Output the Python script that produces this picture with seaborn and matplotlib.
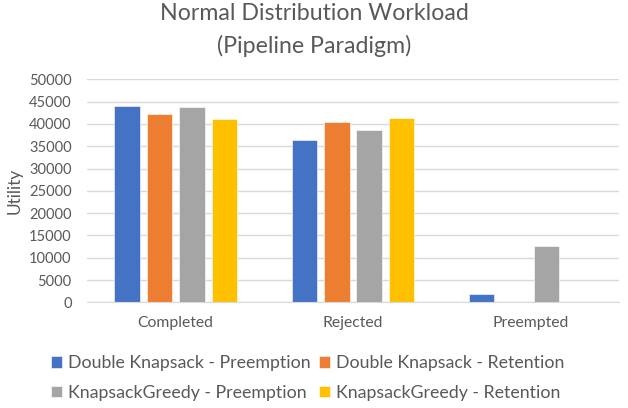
import pandas as pd
import matplotlib.pyplot as plt
import seaborn as sns

# values
categories = ['Completed', 'Rejected', 'Preempted']
series = ['Double Knapsack - Preemption', 'Double Knapsack - Retention',
          'KnapsackGreedy - Preemption', 'KnapsackGreedy - Retention']
dk_preemption = [44000, 36400, 1900]
dk_retention = [42200, 40400, 0]
kg_preemption = [43700, 38600, 12600]
kg_retention = [41100, 41300, 0]
colors = ['#4472C4', '#ED7D31', '#A5A5A5', '#FFC000']

rows = []
for name, vals in zip(series, [dk_preemption, dk_retention, kg_preemption, kg_retention]):
    for cat, v in zip(categories, vals):
        rows.append({'Status': cat, 'Algorithm': name, 'Utility': v})
df = pd.DataFrame(rows)

sns.set_style('white')
plt.rcParams['font.family'] = ['Lato', 'DejaVu Sans']
text_color = '#595959'
grid_color = '#d9d9d9'

fig = plt.figure(figsize=(6.28, 4.08), dpi=100)
ax = fig.add_axes([87 / 628, 1 - 302.3 / 408, 532 / 628, 223 / 408])

sns.barplot(data=df, x='Status', y='Utility', hue='Algorithm', order=categories,
            hue_order=series, palette=colors, saturation=1, width=0.731, gap=0.213,
            errorbar=None, edgecolor='white', linewidth=0.4, ax=ax)

ax.set_ylim(0, 50000)
ax.set_xlim(-0.5, 2.5)
ax.set_yticks(range(0, 50001, 5000))
ax.yaxis.grid(True, color=grid_color, linewidth=1)
ax.set_axisbelow(True)
for side in ['top', 'right', 'left']:
    ax.spines[side].set_visible(False)
ax.spines['bottom'].set_color(grid_color)
ax.tick_params(axis='both', length=0, labelcolor=text_color)
ax.tick_params(axis='y', pad=11, labelsize=10.5)
ax.tick_params(axis='x', pad=10, labelsize=11.3)
ax.set_xlabel('')
ax.set_ylabel('')

fig.text(15 / 628, 1 - 190.8 / 408, 'Utility', rotation=90, ha='center', va='center',
         color=text_color, fontsize=12.5)
fig.text(0.5, 1 - 14 / 408, 'Normal Distribution Workload', ha='center', va='center',
         color=text_color, fontsize=16.7)
fig.text(0.5, 1 - 46 / 408, '(Pipeline Paradigm)', ha='center', va='center',
         color=text_color, fontsize=16.7)

handles, labels = ax.get_legend_handles_labels()
ax.get_legend().remove()
idx = [0, 2, 1, 3]  # column-first fill -> rows of two
fig.legend([handles[i] for i in idx], [labels[i] for i in idx], ncol=2,
           loc='center', bbox_to_anchor=(0.49, 1 - 378 / 408), frameon=False,
           fontsize=12.8, labelcolor=text_color, handlelength=0.6, handleheight=0.6,
           handletextpad=0.35, columnspacing=0.5, labelspacing=0.75)

fig.savefig('out.png', dpi=100)
